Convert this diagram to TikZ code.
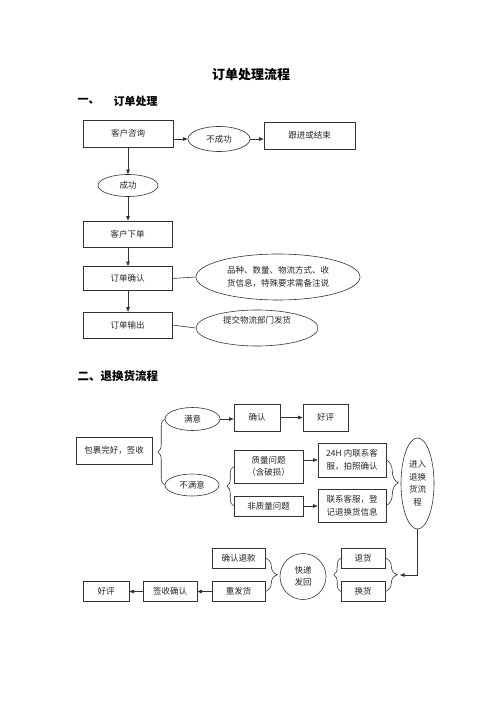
\documentclass[tikz,border=0pt]{standalone}
\usepackage{fontspec}
\newfontfamily\cjk{Noto Sans CJK SC}
\usetikzlibrary{arrows.meta,shapes.geometric,decorations.pathreplacing}
\begin{document}
\begin{tikzpicture}[x=1pt,y=-1pt,
  every node/.style={font=\cjk\fontsize{8.5}{12.5}\selectfont, text=black!85},
  ln/.style={draw=black!80, line width=0.6pt},
  box/.style={ln, rectangle, inner sep=1pt, align=center},
  ell/.style={ln, ellipse, inner sep=0pt, align=center},
  arr/.style={ln, -{Triangle[length=4.5pt,width=3.5pt]}},
  brc/.style={ln, decorate, decoration={brace, amplitude=#1}},
  brc/.default=7pt,
  head/.style={font=\cjk\bfseries\fontsize{11}{13}\selectfont, text=black, anchor=west},
]
\useasboundingbox (0,0) rectangle (500,708);
\fill[white] (0,0) rectangle (500,708);

% title
\node[font=\cjk\bfseries\fontsize{13}{15}\selectfont, text=black] (title) at (251,75) {订单处理流程};
\node[head] (h1a) at (74,101) {一、};
\node[head] (h1b) at (110,101) {订单处理};

% section 1
\node[box, minimum width=90, minimum height=27] (q) at (128,133.5) {客户咨询};
\node[ell, minimum width=62, minimum height=25] (nf) at (219,139) {不成功};
\node[box, minimum width=91, minimum height=27] (gj) at (309.5,135.5) {跟进或结束};
\node[ell, minimum width=60, minimum height=22] (cg) at (128,185.5) {成功};
\node[box, minimum width=89, minimum height=26] (xd) at (127.5,234) {客户下单};
\node[box, minimum width=89, minimum height=24] (qr) at (127.5,278.5) {订单确认};
\node[ell, minimum width=164, minimum height=46] (pz) at (278,277) {品种、数量、物流方式、收\\货信息，特殊要求需备注说};
\node[box, minimum width=89, minimum height=26] (sc) at (127.5,325) {订单输出};
\node[ell, minimum width=122, minimum height=36,
      label={[yshift=8pt, font=\cjk\fontsize{8.5}{12.5}\selectfont, text=black!85]center:提交物流部门发货}] (tj) at (257,328) {};

\draw[arr] (q.east |- nf.west) -- (nf.west);
\draw[arr] (nf.east) -- (gj.west |- nf.east);
\draw[arr] (q.south -| cg.north) -- (cg.north);
\draw[arr] (cg.south) -- (xd.north -| cg.south);
\draw[arr] (xd.south -| cg.south) -- (qr.north -| cg.south);
\draw[arr] (qr.south -| cg.south) -- (sc.north -| cg.south);
\draw[ln] (qr.east) -- (pz.west);
\draw[ln] (sc.east) -- (tj.west);

% section 2
\node[font=\cjk\bfseries\fontsize{11.5}{13}\selectfont, text=black, anchor=west] (h2) at (74,376) {二、退换货流程};

\node[box, minimum width=76, minimum height=27] (bg) at (114,450.5) {包裹完好，签收};
\node[ell, minimum width=55, minimum height=23] (my) at (192.5,419) {满意};
\node[box, minimum width=46, minimum height=27] (qrn) at (257,417.5) {确认};
\node[box, minimum width=45, minimum height=27] (hp) at (325.5,417.5) {好评};
\node[ell, minimum width=54, minimum height=22] (bmy) at (192,485) {不满意};
\node[box, minimum width=69, minimum height=33] (zl) at (268.5,466.5) {质量问题\\（含破损）};
\node[box, minimum width=69, minimum height=20] (fzl) at (268.5,506) {非质量问题};
\node[box, minimum width=68, minimum height=34] (h24) at (352,460) {24H 内联系客\\服，拍照确认};
\node[box, minimum width=68, minimum height=33] (lx) at (352,505.5) {联系客服，登\\记退换货信息};
\node[ell, minimum width=33, minimum height=91] (jr) at (417.5,483.5) {进入\\退换\\货流\\程};

\draw[arr] (my.east) -- (qrn.west |- my.east);
\draw[arr] (qrn.east) -- (hp.west);
\draw[arr] (zl.east |- h24.west) -- (h24.west);
\draw[arr] (fzl.east) -- (lx.west |- fzl.east);
\draw[brc] (bmy.west) -- (my.west);
\draw[brc] (fzl.west) -- (zl.west);
\draw[brc=12pt] (h24.east) -- (lx.east);

% bottom row
\node[box, minimum width=44, minimum height=20] (th) at (363,558) {退货};
\node[box, minimum width=44, minimum height=20] (hh) at (363,591.5) {换货};
\node[ln, circle, minimum size=46, inner sep=0pt, align=center] (kd) at (303,576.5) {快递\\发回};
\node[box, minimum width=53, minimum height=20] (qrtk) at (238.5,558) {确认退款};
\node[box, minimum width=53, minimum height=20] (cfh) at (238.5,591.5) {重发货};
\node[box, minimum width=54, minimum height=20] (qs) at (170,591.5) {签收确认};
\node[box, minimum width=46, minimum height=20] (hp2) at (106,591.5) {好评};

\coordinate (bt) at (400,575);
\draw[ln] (jr.south) -- (jr.south |- bt);
\draw[arr] (jr.south |- bt) -- (bt);
\draw[brc=12pt] (th.east) -- (hh.east);
\draw[brc] (hh.west) -- (th.west);
\draw[brc=12pt] (qrtk.east) -- (cfh.east);
\draw[arr] (cfh.west) -- (qs.east);
\draw[arr] (qs.west) -- (hp2.east);
\end{tikzpicture}
\end{document}
